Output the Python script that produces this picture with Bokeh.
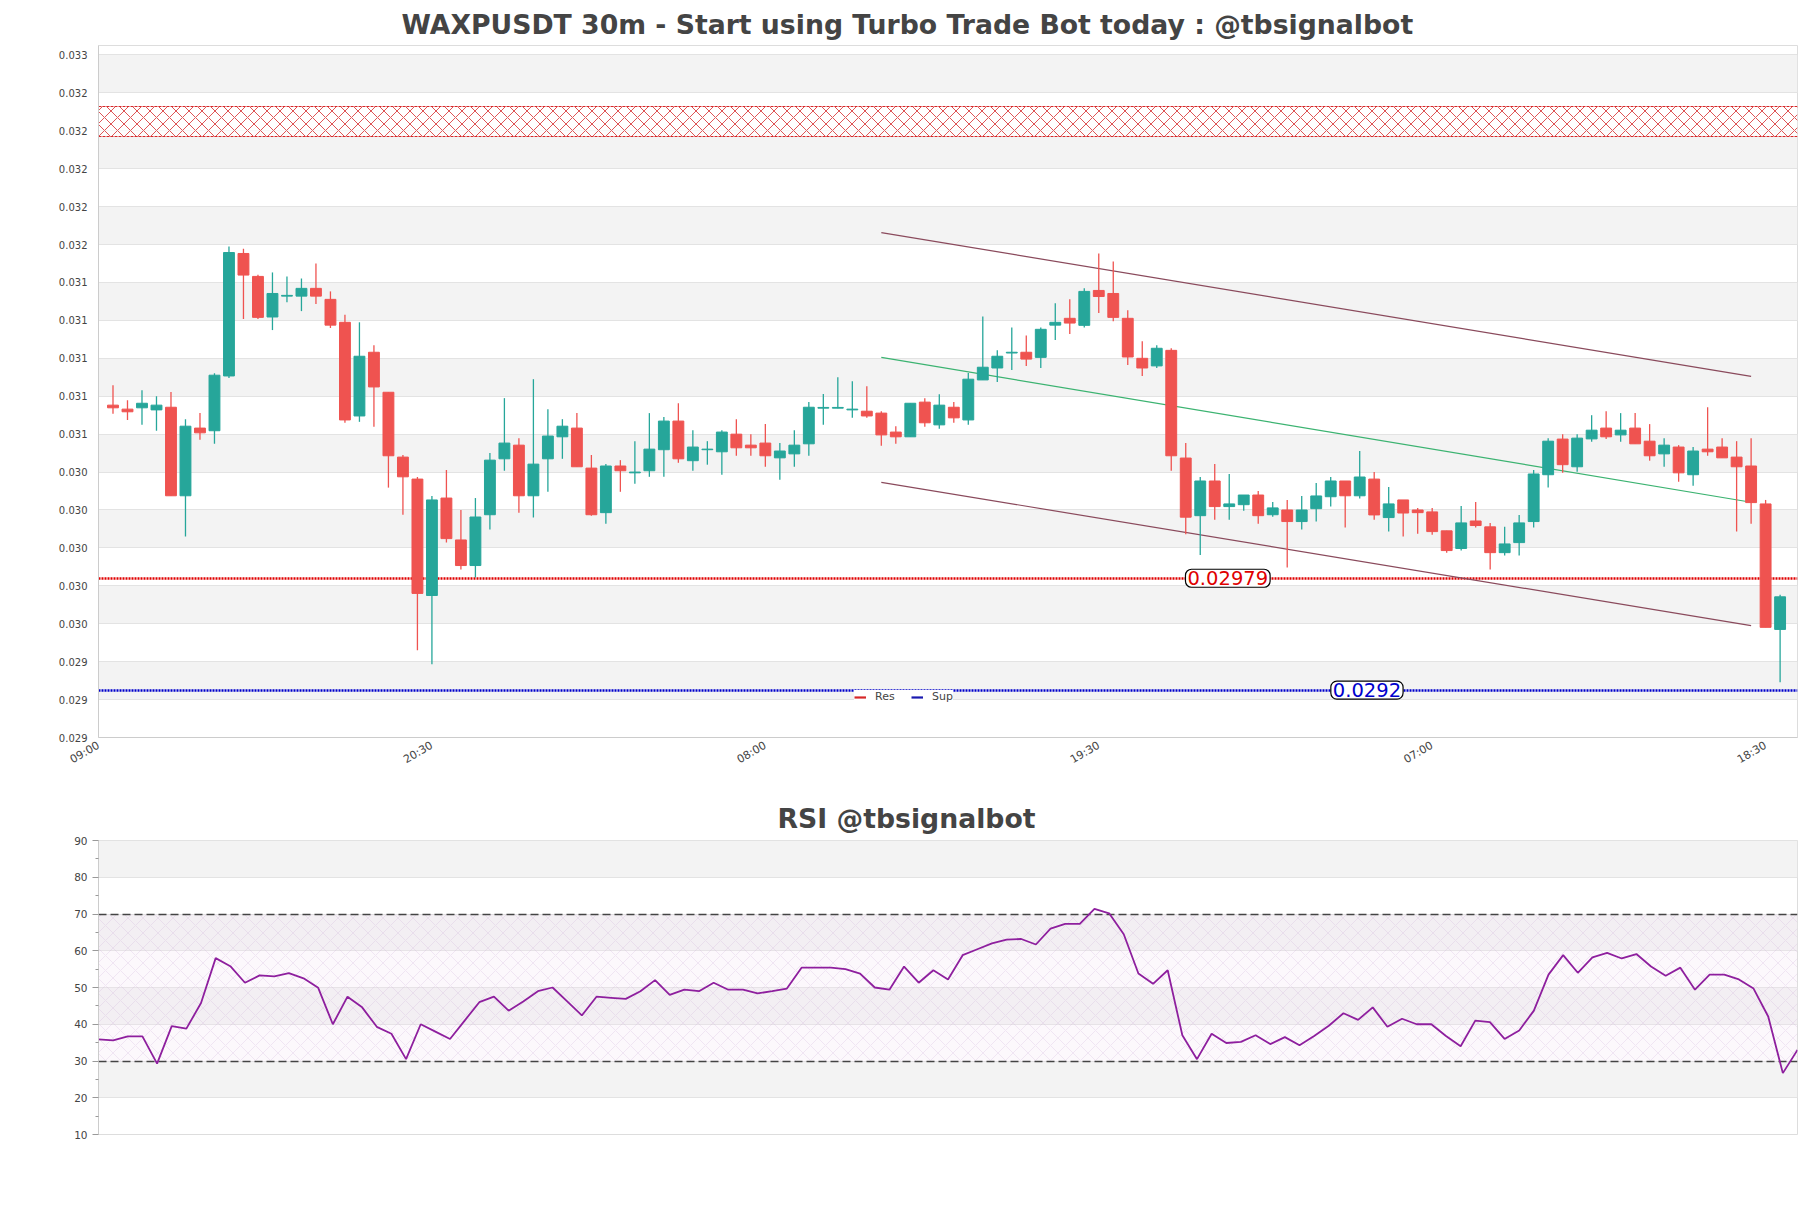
import math
from bokeh.plotting import figure
from bokeh.models import Range1d, FixedTicker, Label, Legend, LegendItem, ColumnDataSource
from bokeh.layouts import column
from bokeh.embed import file_html
from bokeh.resources import INLINE

FONT = "DejaVu Sans"

title_main = "WAXPUSDT 30m - Start using Turbo Trade Bot today : @tbsignalbot"
title_rsi = "RSI @tbsignalbot"

opens = [0.030703, 0.030682, 0.030689, 0.030678, 0.030692, 0.030225, 0.030582, 0.030568, 0.030857, 0.031503,
         0.031382, 0.031168, 0.031278, 0.031278, 0.031319, 0.031261, 0.031140, 0.030646, 0.030982, 0.030771,
         0.030429, 0.030313, 0.029699, 0.030213, 0.029992, 0.029857, 0.030125, 0.030420, 0.030492, 0.030225,
         0.030420, 0.030536, 0.030582, 0.030371, 0.030136, 0.030382, 0.030346, 0.030357, 0.030468, 0.030619,
         0.030410, 0.030468, 0.030457, 0.030550, 0.030492, 0.030503, 0.030425, 0.030446, 0.030499, 0.030687,
         0.030687, 0.030678, 0.030671, 0.030661, 0.030561, 0.030536, 0.030719, 0.030599, 0.030692, 0.030625,
         0.030836, 0.030899, 0.030978, 0.030982, 0.030955, 0.031125, 0.031161, 0.031124, 0.031308, 0.031292,
         0.031161, 0.030950, 0.030910, 0.030992, 0.030424, 0.030120, 0.030303, 0.030168, 0.030178, 0.030229,
         0.030125, 0.030150, 0.030089, 0.030157, 0.030220, 0.030303, 0.030225, 0.030313, 0.030110, 0.030203,
         0.030150, 0.030140, 0.030040, 0.029947, 0.030092, 0.030061, 0.029925, 0.029978, 0.030089, 0.030336,
         0.030524, 0.030378, 0.030525, 0.030582, 0.030546, 0.030582, 0.030513, 0.030446, 0.030482, 0.030336,
         0.030471, 0.030482, 0.030429, 0.030382, 0.030182, 0.029520]
highs = [0.030808, 0.030729, 0.030782, 0.030750, 0.030773, 0.030629, 0.030661, 0.030871, 0.031540, 0.031528,
         0.031391, 0.031403, 0.031382, 0.031371, 0.031450, 0.031303, 0.031180, 0.031140, 0.031019, 0.030771,
         0.030440, 0.030324, 0.030224, 0.030361, 0.030150, 0.030213, 0.030450, 0.030740, 0.030529, 0.030840,
         0.030682, 0.030629, 0.030661, 0.030440, 0.030392, 0.030413, 0.030513, 0.030661, 0.030640, 0.030713,
         0.030571, 0.030513, 0.030571, 0.030629, 0.030550, 0.030603, 0.030503, 0.030571, 0.030719, 0.030762,
         0.030850, 0.030829, 0.030803, 0.030671, 0.030592, 0.030713, 0.030740, 0.030761, 0.030719, 0.030873,
         0.031171, 0.030992, 0.031113, 0.031071, 0.031113, 0.031240, 0.031261, 0.031319, 0.031503, 0.031461,
         0.031203, 0.031040, 0.031019, 0.031003, 0.030503, 0.030324, 0.030392, 0.030340, 0.030229, 0.030250,
         0.030192, 0.030203, 0.030224, 0.030292, 0.030324, 0.030303, 0.030461, 0.030350, 0.030271, 0.030203,
         0.030161, 0.030161, 0.030040, 0.030171, 0.030192, 0.030082, 0.030061, 0.030124, 0.030361, 0.030529,
         0.030550, 0.030550, 0.030650, 0.030671, 0.030661, 0.030661, 0.030603, 0.030529, 0.030492, 0.030482,
         0.030692, 0.030529, 0.030513, 0.030529, 0.030203, 0.029703]
lows = [0.030657, 0.030625, 0.030599, 0.030568, 0.030225, 0.030010, 0.030520, 0.030499, 0.030846, 0.031157,
        0.031157, 0.031099, 0.031246, 0.031199, 0.031236, 0.031110, 0.030610, 0.030615, 0.030589, 0.030268,
        0.030125, 0.029410, 0.029336, 0.029978, 0.029836, 0.029794, 0.030047, 0.030357, 0.030136, 0.030110,
        0.030246, 0.030420, 0.030378, 0.030120, 0.030078, 0.030246, 0.030289, 0.030325, 0.030325, 0.030399,
        0.030357, 0.030389, 0.030336, 0.030436, 0.030436, 0.030378, 0.030310, 0.030378, 0.030436, 0.030599,
        0.030687, 0.030636, 0.030636, 0.030489, 0.030499, 0.030536, 0.030589, 0.030578, 0.030610, 0.030599,
        0.030836, 0.030825, 0.030889, 0.030910, 0.030899, 0.031046, 0.031078, 0.031113, 0.031189, 0.031145,
        0.030915, 0.030857, 0.030899, 0.030357, 0.030022, 0.029912, 0.030099, 0.030099, 0.030146, 0.030078,
        0.030115, 0.029847, 0.030047, 0.030089, 0.030168, 0.030057, 0.030210, 0.030098, 0.030036, 0.030010,
        0.030025, 0.030020, 0.029925, 0.029936, 0.030057, 0.029836, 0.029910, 0.029910, 0.030057, 0.030268,
        0.030346, 0.030352, 0.030510, 0.030525, 0.030510, 0.030499, 0.030410, 0.030378, 0.030299, 0.030278,
        0.030436, 0.030425, 0.030036, 0.030078, 0.029531, 0.029241]
closes = [0.030689, 0.030668, 0.030713, 0.030703, 0.030225, 0.030592, 0.030557, 0.030861, 0.031508, 0.031389,
          0.031166, 0.031292, 0.031282, 0.031319, 0.031278, 0.031125, 0.030625, 0.030961, 0.030799, 0.030436,
          0.030325, 0.029710, 0.030203, 0.029999, 0.029857, 0.030113, 0.030413, 0.030503, 0.030225, 0.030392,
          0.030540, 0.030592, 0.030378, 0.030125, 0.030382, 0.030357, 0.030350, 0.030471, 0.030619, 0.030420,
          0.030482, 0.030471, 0.030561, 0.030478, 0.030478, 0.030436, 0.030461, 0.030492, 0.030692, 0.030691,
          0.030691, 0.030682, 0.030646, 0.030546, 0.030536, 0.030713, 0.030610, 0.030703, 0.030636, 0.030840,
          0.030903, 0.030961, 0.030982, 0.030946, 0.031103, 0.031140, 0.031136, 0.031303, 0.031276, 0.031166,
          0.030957, 0.030899, 0.031003, 0.030436, 0.030112, 0.030303, 0.030168, 0.030182, 0.030229, 0.030120,
          0.030161, 0.030089, 0.030150, 0.030224, 0.030303, 0.030225, 0.030324, 0.030124, 0.030182, 0.030134,
          0.030136, 0.030036, 0.029936, 0.030082, 0.030068, 0.029925, 0.029971, 0.030082, 0.030340, 0.030513,
          0.030389, 0.030529, 0.030571, 0.030536, 0.030571, 0.030499, 0.030436, 0.030492, 0.030346, 0.030461,
          0.030457, 0.030425, 0.030378, 0.030189, 0.029531, 0.029692]

rsi = [35.9, 35.6, 36.7, 36.7, 29.3, 39.5, 38.8, 45.8, 58.0, 55.8,
       51.3, 53.3, 53.0, 53.9, 52.5, 49.9, 40.0, 47.5, 44.6, 39.3,
       37.4, 30.5, 40.0, 38.0, 36.0, 41.0, 46.0, 47.5, 43.7, 46.2,
       49.0, 50.0, 46.2, 42.4, 47.5, 47.2, 46.9, 49.0, 52.0, 48.0,
       49.4, 49.0, 51.3, 49.4, 49.4, 48.4, 49.0, 49.7, 55.4, 55.4,
       55.4, 55.0, 53.8, 50.0, 49.4, 55.7, 51.3, 54.7, 52.2, 58.8,
       60.4, 62.0, 63.0, 63.2, 61.7, 66.0, 67.3, 67.3, 71.4, 70.2,
       64.5, 53.8, 51.0, 54.7, 37.0, 30.5, 37.4, 34.9, 35.2, 37.0,
       34.6, 36.5, 34.3, 36.8, 39.6, 43.0, 41.2, 44.6, 39.3, 41.5,
       40.0, 40.0, 36.8, 34.0, 41.0, 40.6, 36.0, 38.3, 43.7, 53.5,
       58.8, 54.0, 58.2, 59.4, 57.9, 59.1, 55.7, 53.2, 55.4, 49.4,
       53.5, 53.5, 52.2, 49.7, 42.1, 26.7, 33.0]

resistance = 0.02979
support = 0.0292
res_zone = [0.03212, 0.03228]

channel_x = [54, 114]
channel_upper = [0.031613, 0.030855]
channel_mid = [0.030955, 0.030191]
channel_lower = [0.030296, 0.029540]

x_tick_index = [0, 23, 46, 69, 92, 115]
x_tick_labels = ["09:00", "20:30", "08:00", "19:30", "07:00", "18:30"]

y_ticks = [0.02895, 0.02915, 0.02935, 0.02955, 0.02975, 0.02995, 0.03015, 0.03035, 0.03055, 0.03075,
           0.03095, 0.03115, 0.03135, 0.03155, 0.03175, 0.03195, 0.03215, 0.03235, 0.03255]
y_tick_labels = ["0.029", "0.029", "0.029", "0.030", "0.030", "0.030", "0.030", "0.030", "0.031", "0.031",
                 "0.031", "0.031", "0.031", "0.032", "0.032", "0.032", "0.032", "0.032", "0.033"]

rsi_ticks = [10, 20, 30, 40, 50, 60, 70, 80, 90]
rsi_minor = [15, 25, 35, 45, 55, 65, 75, 85]
rsi_levels = [30, 70]

UP = "#26a69a"
DOWN = "#ef5350"
GRID = "#e3e3e3"
BAND = "#f3f3f3"
RES_C = "#e00000"
SUP_C = "#0000cc"

# ---------------- main figure ----------------
n = len(opens)
xs = list(range(1, n + 1))
colors = [UP if c >= o else DOWN for o, c in zip(opens, closes)]
src = ColumnDataSource(dict(
    x=xs, h=highs, l=lows,
    top=[max(o, c) for o, c in zip(opens, closes)],
    bottom=[min(o, c) for o, c in zip(opens, closes)],
    color=colors))

p = figure(width=1811, height=790, output_backend="svg", toolbar_location=None,
           x_range=Range1d(0, 117.2), y_range=Range1d(0.02895, 0.03260),
           min_border_left=98, min_border_right=14, min_border_top=43, min_border_bottom=53,
           background_fill_color="white", border_fill_color="white")
p.title.text = title_main
p.title.align = "left"
p.title.offset = 303
p.title.text_font = FONT
p.title.text_font_size = "26.7px"
p.title.text_font_style = "bold"
p.title.text_color = "#444444"
p.title.standoff = 12

p.outline_line_color = "#dddddd"
p.xgrid.grid_line_color = None
p.ygrid.grid_line_color = GRID
p.ygrid.band_fill_color = BAND
p.ygrid.band_fill_alpha = 1.0

p.yaxis.ticker = FixedTicker(ticks=y_ticks)
p.yaxis.major_label_overrides = {t: s for t, s in zip(y_ticks, y_tick_labels)}
p.xaxis.ticker = FixedTicker(ticks=x_tick_index)
p.xaxis.major_label_overrides = {t: s for t, s in zip(x_tick_index, x_tick_labels)}
p.xaxis.major_label_orientation = math.pi / 6
p.xaxis.major_label_standoff = 1
for ax in (p.xaxis[0], p.yaxis[0]):
    ax.axis_line_color = "#cccccc"
    ax.major_tick_line_color = None
    ax.minor_tick_line_color = None
    ax.major_label_text_font = FONT
    ax.major_label_text_color = "#444444"
p.yaxis.major_label_text_font_size = "10px"
p.xaxis.major_label_text_font_size = "11px"

# resistance zone
p.hstrip(y0=[res_zone[0]], y1=[res_zone[1]], fill_color="white", fill_alpha=0.7,
         hatch_pattern="diagonal_cross", hatch_color="#d62728", hatch_scale=13, hatch_weight=0.8,
         line_color="#d62728", line_width=1.2, line_dash="3 1")

p.hspan(y=[resistance], line_color=RES_C, line_width=2.4, line_dash="2 1")
p.hspan(y=[support], line_color=SUP_C, line_width=2.4, line_dash="2 1")
# single-point lines: draw nothing in the plot, only provide solid legend glyphs
leg_res = p.line(x=[xs[0]], y=[resistance], line_color="#d62728", line_width=2.2)
leg_sup = p.line(x=[xs[0]], y=[support], line_color="#1a1ab0", line_width=2.2)

# channel
p.line(channel_x, channel_upper, line_color="#8a4a5c", line_width=1.2)
p.line(channel_x, channel_lower, line_color="#8a4a5c", line_width=1.2)
p.line(channel_x, channel_mid, line_color="#3cb371", line_width=1.2)

# candles
p.segment(x0="x", y0="h", x1="x", y1="l", line_color="color", line_width=1.3, source=src)
p.vbar(x="x", width=0.75, top="top", bottom="bottom", fill_color="color", line_color="color",
       line_width=1, source=src)

# value labels
p.add_layout(Label(x=77.9, y=resistance, text=f"{resistance}", text_color=RES_C,
                   text_font=FONT, text_font_size="19.5px", text_align="center", text_baseline="middle",
                   background_fill_color="white", border_line_color="black", border_line_width=1.2,
                   border_radius=6, padding=2))
p.add_layout(Label(x=87.5, y=support, text=f"{support}", text_color=SUP_C,
                   text_font=FONT, text_font_size="19.5px", text_align="center", text_baseline="middle",
                   background_fill_color="white", border_line_color="black", border_line_width=1.2,
                   border_radius=6, padding=2))

legend = Legend(items=[LegendItem(label="Res", renderers=[leg_res]), LegendItem(label="Sup", renderers=[leg_sup])],
                orientation="horizontal", location=(756, 34), background_fill_color="white",
                background_fill_alpha=1.0, border_line_color=None, label_text_font=FONT,
                label_text_font_size="11px", glyph_width=12, glyph_height=10, label_standoff=9,
                spacing=16, padding=7, margin=0, label_height=12)
p.add_layout(legend)

# ---------------- RSI figure ----------------
q = figure(width=1811, height=418, output_backend="svg", toolbar_location=None,
           x_range=Range1d(0, len(rsi) - 1), y_range=Range1d(10, 90),
           min_border_left=98, min_border_right=14, min_border_top=50, min_border_bottom=74,
           background_fill_color="white", border_fill_color="white")
q.title.text = title_rsi
q.title.align = "left"
q.title.offset = 679
q.title.text_font = FONT
q.title.text_font_size = "26.7px"
q.title.text_font_style = "bold"
q.title.text_color = "#444444"
q.title.standoff = 14
q.outline_line_color = "#dddddd"
q.xaxis.visible = False
q.xgrid.grid_line_color = None
q.ygrid.grid_line_color = GRID
q.ygrid.band_fill_color = BAND
q.ygrid.band_fill_alpha = 1.0
q.yaxis.ticker = FixedTicker(ticks=rsi_ticks, minor_ticks=rsi_minor)
q.yaxis.axis_line_color = "#cccccc"
q.yaxis.major_tick_line_color = "#999999"
q.yaxis.minor_tick_line_color = "#999999"
q.yaxis.major_tick_out = 6
q.yaxis.major_tick_in = 0
q.yaxis.minor_tick_out = 3
q.yaxis.minor_tick_in = 0
q.yaxis.major_label_text_font = FONT
q.yaxis.major_label_text_font_size = "10.5px"
q.yaxis.major_label_text_color = "#444444"

q.hstrip(y0=[rsi_levels[0]], y1=[rsi_levels[1]], fill_color="#f3e5f5", fill_alpha=0.25,
         hatch_pattern="diagonal_cross", hatch_color="#c9a6d3", hatch_alpha=0.4, hatch_scale=15,
         hatch_weight=0.6, line_color=None)
q.hspan(y=rsi_levels, line_color="#444444", line_width=1.3, line_dash="8 4")
q.line(list(range(len(rsi))), rsi, line_color="#8e1f9e", line_width=1.8)

layout = column(p, q, spacing=0)
open("out.html", "w").write(file_html(layout, INLINE))
